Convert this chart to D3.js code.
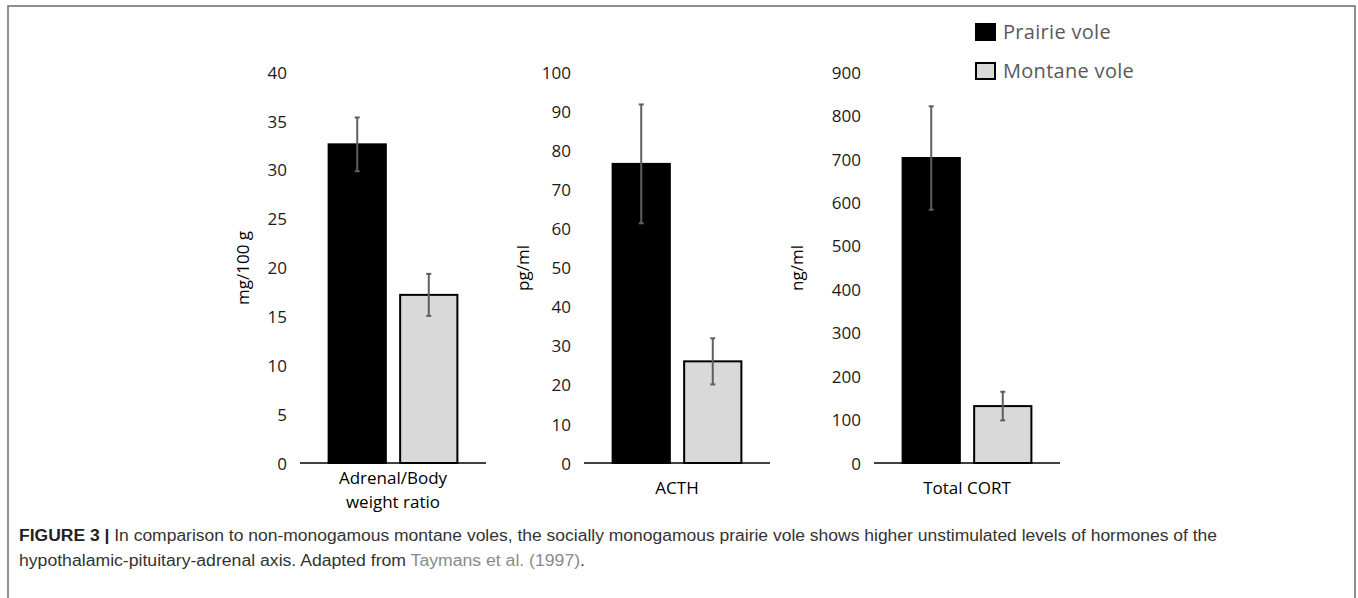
<!DOCTYPE html>
<html>
<head>
<meta charset="utf-8">
<script src="https://cdn.jsdelivr.net/npm/d3@7/dist/d3.min.js"></script>
<style>
  body { margin: 0; background: #fff; }
</style>
</head>
<body>
<script>

    // values (mean and half of the error bar)
    var categories = [["Adrenal/Body", "weight ratio"], ["ACTH"], ["Total CORT"]];
    var units = ["mg/100 g", "pg/ml", "ng/ml"];
    var series = ["Prairie vole", "Montane vole"];
    var prairie = [32.6, 76.5, 702];
    var prairieErr = [2.75, 15.2, 119];
    var montane = [17.2, 26.0, 131];
    var montaneErr = [2.15, 5.9, 33];
    var yMax = [40, 100, 900];
    var yStep = [5, 10, 100];

    var width = 1358,
        height = 598,
        panelX = [300, 584, 874],
        titleX = [243, 523, 797],
        panelW = 186,
        yBottom = 463,
        yTop = 72,
        colors = ["#000000", "#d9d9d9"];

    var svg = d3.select("body")
                .append("svg")
                .attr("width", width)
                .attr("height", height);

    // frame round the figure
    svg.append("path")
       .attr("d", "M8," + height + "V6H1355V" + height)
       .attr("fill", "none")
       .attr("stroke", "#6b6b6b")
       .attr("stroke-width", 1.5);

    categories.forEach((cat, i) => {

        var x = d3.scaleBand()
                  .domain(series)
                  .range([panelX[i], panelX[i] + panelW])
                  .paddingInner(0.2)
                  .paddingOuter(0.4);

        var y = d3.scaleLinear()
                  .domain([0, yMax[i]])
                  .range([yBottom, yTop]);

        var g = svg.append("g");

        var axis = g.append("g")
                    .attr("transform", "translate(" + panelX[i] + ",0)")
                    .call(d3.axisLeft(y).tickValues(d3.range(0, yMax[i] + 1, yStep[i])).tickSize(0).tickPadding(13));
        axis.select(".domain").remove();
        axis.selectAll("text")
            .attr("font-family", "'Open Sans', sans-serif")
            .attr("font-size", 17)
            .attr("fill", "#1a1a1a")
            .attr("dy", "0.36em");

        var rows = [
            { name: series[0], v: prairie[i], e: prairieErr[i], c: colors[0] },
            { name: series[1], v: montane[i], e: montaneErr[i], c: colors[1] }
        ];

        g.selectAll("rect")
         .data(rows)
         .enter()
         .append("rect")
         .attr("x", (d) => x(d.name))
         .attr("width", x.bandwidth())
         .attr("y", (d) => y(d.v))
         .attr("height", (d) => y(0) - y(d.v))
         .attr("fill", (d) => d.c)
         .attr("stroke", "#000")
         .attr("stroke-width", 2);

        // baseline
        g.append("line")
         .attr("x1", panelX[i]).attr("x2", panelX[i] + panelW)
         .attr("y1", y(0)).attr("y2", y(0))
         .attr("stroke", "#000")
         .attr("stroke-width", 1.6);

        // error bars
        var eb = g.selectAll(".err")
                  .data(rows)
                  .enter()
                  .append("g")
                  .attr("stroke", "#5f5f5f")
                  .attr("stroke-width", 2);
        eb.append("line")
          .attr("x1", (d) => x(d.name) + x.bandwidth() / 2)
          .attr("x2", (d) => x(d.name) + x.bandwidth() / 2)
          .attr("y1", (d) => y(d.v + d.e))
          .attr("y2", (d) => y(d.v - d.e));
        eb.selectAll(".cap")
          .data((d) => [d.v + d.e, d.v - d.e].map((v) => ({ v: v, d: d })))
          .enter()
          .append("line")
          .attr("x1", (p) => x(p.d.name) + x.bandwidth() / 2 - 2.5)
          .attr("x2", (p) => x(p.d.name) + x.bandwidth() / 2 + 2.5)
          .attr("y1", (p) => y(p.v))
          .attr("y2", (p) => y(p.v));

        // category label under the axis
        var cx = panelX[i] + panelW / 2;
        var lab = g.append("text")
                   .attr("text-anchor", "middle")
                   .attr("font-family", "'Open Sans', sans-serif")
                   .attr("font-size", 17)
                   .attr("fill", "#000");
        var startY = cat.length == 1 ? 494 : 484;
        cat.forEach((line, k) => {
            lab.append("tspan")
               .attr("x", cx)
               .attr("y", startY + k * 24)
               .text(line);
        });

        // unit title
        g.append("text")
         .attr("transform", "translate(" + titleX[i] + ",268) rotate(-90)")
         .attr("text-anchor", "middle")
         .attr("dy", "0.35em")
         .attr("font-family", "'Open Sans', sans-serif")
         .attr("font-size", 17)
         .attr("fill", "#000")
         .text(units[i]);
    });

    // legend
    var legend = svg.selectAll(".legend")
                    .data(series)
                    .enter()
                    .append("g")
                    .attr("transform", (d, i) => "translate(976," + (24 + i * 39) + ")");
    legend.append("rect")
          .attr("width", 19)
          .attr("height", 16)
          .attr("fill", (d, i) => colors[i])
          .attr("stroke", "#000")
          .attr("stroke-width", 2);
    legend.append("text")
          .attr("x", 27)
          .attr("y", 8)
          .attr("dy", "0.36em")
          .attr("font-family", "'Open Sans', sans-serif")
          .attr("font-size", 20)
          .attr("letter-spacing", 0.3)
          .attr("fill", "#595959")
          .text((d) => d);

    // caption
    var cap = svg.append("g")
                 .attr("font-family", "'Liberation Sans', Arial, sans-serif")
                 .attr("font-size", 16)
                 .attr("fill", "#333");
    var l1 = cap.append("text").attr("x", 19).attr("y", 541)
                .attr("textLength", 1198).attr("lengthAdjust", "spacingAndGlyphs");
    l1.append("tspan").attr("font-weight", "bold").attr("fill", "#222").text("FIGURE 3 | ");
    l1.append("tspan").text("In comparison to non-monogamous montane voles, the socially monogamous prairie vole shows higher unstimulated levels of hormones of the");
    var l2 = cap.append("text").attr("x", 19).attr("y", 566)
                .attr("textLength", 566).attr("lengthAdjust", "spacingAndGlyphs");
    l2.append("tspan").text("hypothalamic-pituitary-adrenal axis. Adapted from ");
    l2.append("tspan").attr("fill", "#8a8a8a").text("Taymans et al. (1997)");
    l2.append("tspan").text(".");

</script>
</body>
</html>
